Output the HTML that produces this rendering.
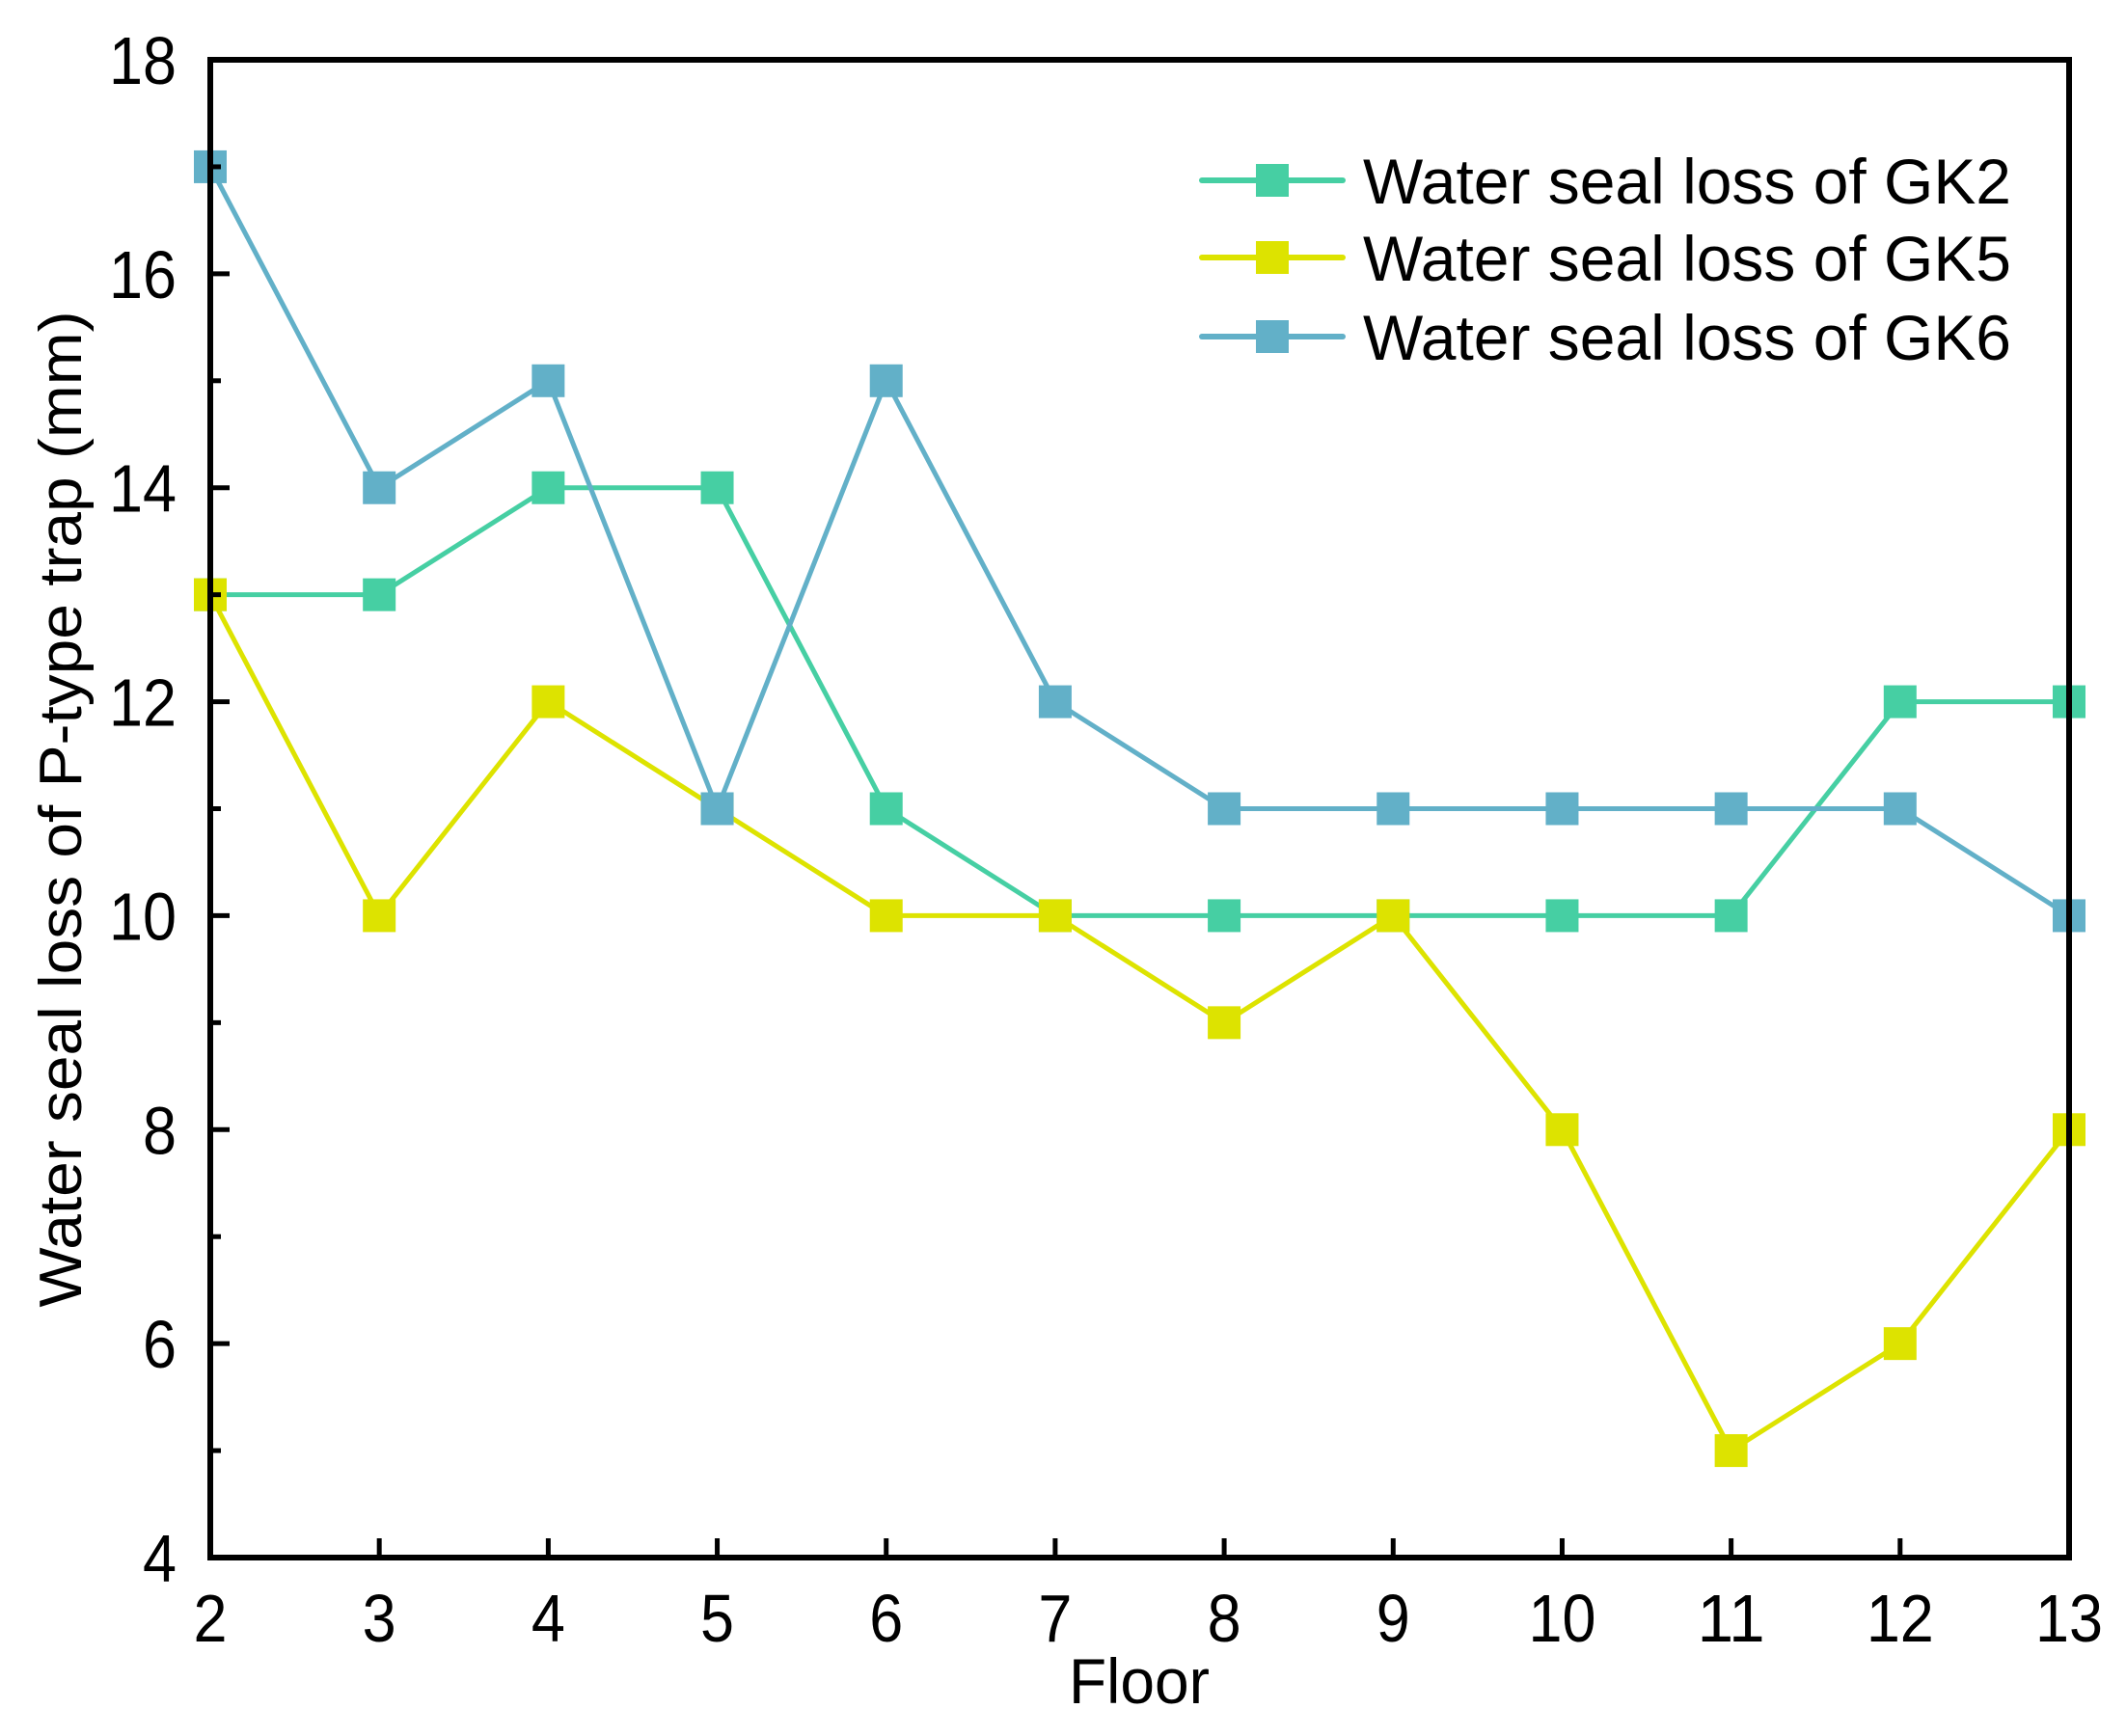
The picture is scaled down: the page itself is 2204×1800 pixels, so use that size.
<!DOCTYPE html>
<html><head><meta charset="utf-8"><style>
html,body{margin:0;padding:0;background:#fff}
svg{display:block;font-family:"Liberation Sans",Arial,sans-serif}
</style></head><body>
<svg id="chart" width="2204" height="1800" viewBox="0 0 2204 1800" xmlns="http://www.w3.org/2000/svg">
<rect width="2204" height="1800" fill="#fff"/>
<g id="plot"></g>
</svg>
<script>
const floors = [2,3,4,5,6,7,8,9,10,11,12,13];
const gk2 = [13,13,14,14,11,10,10,10,10,10,12,12];
const gk5 = [13,10,12,11,10,10,9,10,8,5,6,8];
const gk6 = [17,14,15,11,15,12,11,11,11,11,11,10];
const yTicks = [4,6,8,10,12,14,16,18];
const yMinor = [5,7,9,11,13,15,17];
const seriesNames = ["Water seal loss of GK2","Water seal loss of GK5","Water seal loss of GK6"];

const L=218,R=2145,T=62,B=1615;
const NS="http://www.w3.org/2000/svg";
const g=document.getElementById('plot');
function x(v){return L+(v-2)/(13-2)*(R-L);}
function y(v){return B-(v-4)/(18-4)*(B-T);}
function el(tag,attrs,parent){const e=document.createElementNS(NS,tag);for(const k in attrs)e.setAttribute(k,attrs[k]);(parent||g).appendChild(e);return e;}

const series=[{d:gk2,c:"#46CFA3",n:"gk2"},{d:gk5,c:"#DDE300",n:"gk5"},{d:gk6,c:"#62B0C8",n:"gk6"}];
series.forEach(s=>{
  const pl=el('polyline',{points:s.d.map((v,i)=>x(floors[i])+','+y(v)).join(' '),fill:'none',stroke:s.c,'stroke-width':5,'stroke-linejoin':'round'});
  
  
  s.d.forEach((v,i)=>{
    const m=el('rect',{x:x(floors[i])-17,y:y(v)-17,width:34,height:34,fill:s.c});
    
    
  });
});

const fr=el('rect',{x:L,y:T,width:R-L,height:B-T,fill:'none',stroke:'#000','stroke-width':6});



yTicks.forEach(v=>{
  if(v>4&&v<18){const t=el('line',{x1:L,x2:L+20,y1:y(v),y2:y(v),stroke:'#000','stroke-width':5});
  
  }
  const s=String(v);
  const lb=el('text',{x:183,y:y(v)+25,'text-anchor':'end','font-size':70,fill:'#000',textLength:35*s.length,lengthAdjust:'spacingAndGlyphs'});
  lb.textContent=s;
  
  
});
yMinor.forEach(v=>{
  const t=el('line',{x1:L,x2:L+11,y1:y(v),y2:y(v),stroke:'#000','stroke-width':5});
  
  
});
floors.forEach(v=>{
  if(v>2&&v<13){const t=el('line',{x1:x(v),x2:x(v),y1:B,y2:B-20,stroke:'#000','stroke-width':5});
  
  }
  const s=String(v);
  const lb=el('text',{x:x(v),y:1702,'text-anchor':'middle','font-size':70,fill:'#000',textLength:35*s.length,lengthAdjust:'spacingAndGlyphs'});
  lb.textContent=s;
  
  
});
const xt=el('text',{x:1181,y:1766,'text-anchor':'middle','font-size':66,fill:'#000',textLength:146,lengthAdjust:'spacingAndGlyphs'});
xt.textContent='Floor';


const yt=el('text',{x:0,y:0,'text-anchor':'middle','font-size':62,fill:'#000',transform:'translate(84,839) rotate(-90)',textLength:1033,lengthAdjust:'spacingAndGlyphs'});
yt.textContent='Water seal loss of P-type trap (mm)';



const legY=[187,267,349];
series.forEach((s,i)=>{
  const ln=el('line',{x1:1246,x2:1392,y1:legY[i],y2:legY[i],stroke:s.c,'stroke-width':6,'stroke-linecap':'round'});
  
  
  const m=el('rect',{x:1302,y:legY[i]-17,width:34,height:34,fill:s.c});
  
  
  const tx=el('text',{x:1413,y:legY[i]+24,'font-size':66,fill:'#000',textLength:672,lengthAdjust:'spacingAndGlyphs'});
  tx.textContent=seriesNames[i];
  
  
});
</script>
</body></html>
